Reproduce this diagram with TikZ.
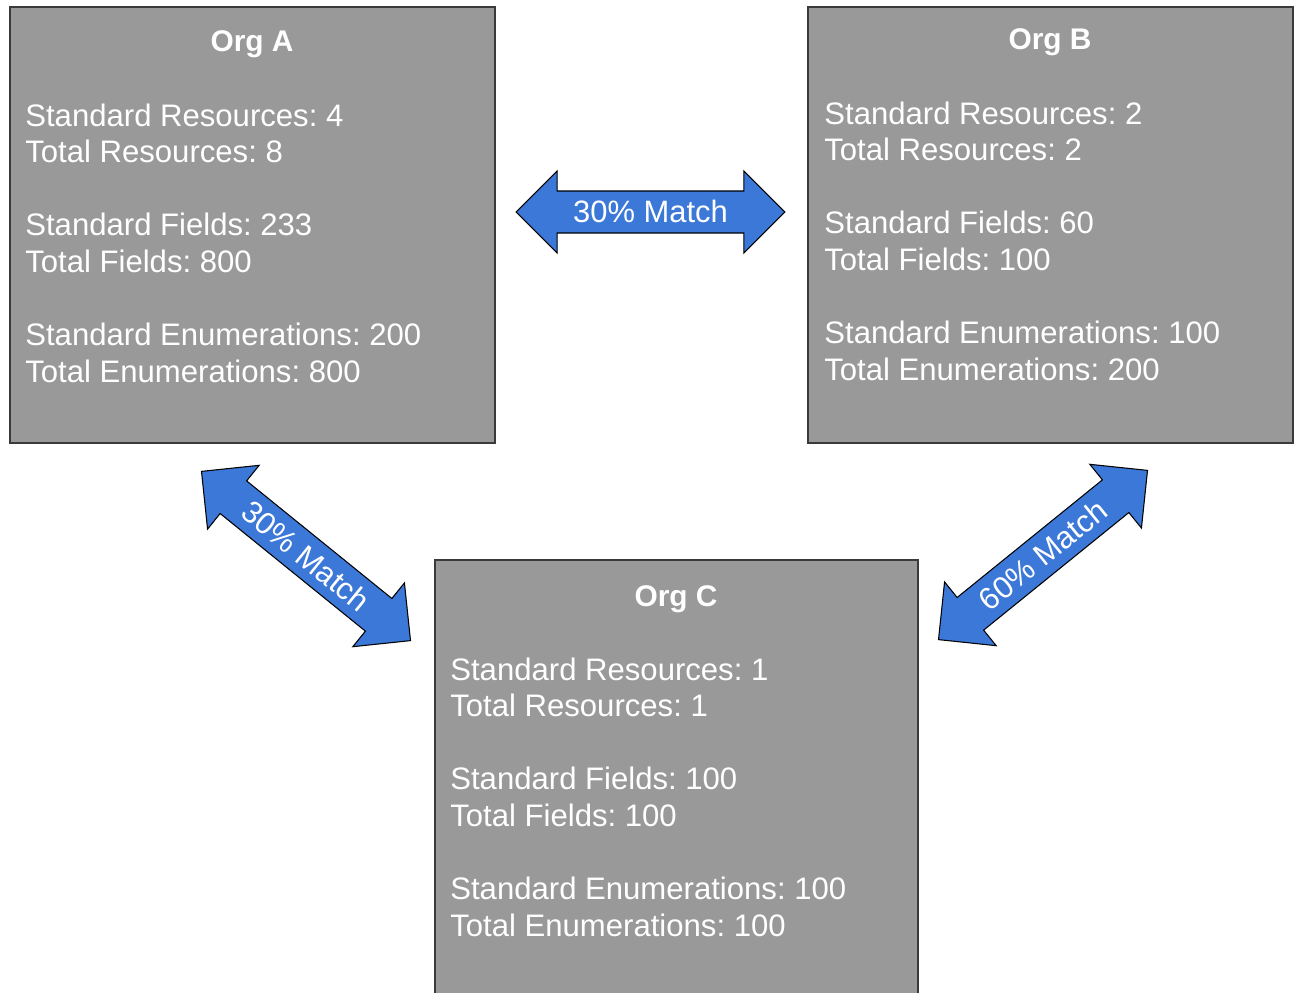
\documentclass[tikz,border=0pt]{standalone}
\usepackage{fontspec}
\setmainfont{Liberation Sans}
\usepackage{xcolor}
\usepackage{tikz}
\usetikzlibrary{shapes.arrows}
\frenchspacing
\definecolor{orggray}{HTML}{999999}
\definecolor{orgline}{HTML}{3A3A3A}
\definecolor{matchblue}{HTML}{3C78D8}
\tikzstyle{org} = [rectangle, draw = orgline, fill = orggray, line width = 0.9pt, inner sep = 0]
\tikzstyle{title} = [draw=none, inner sep = 0, anchor = base, text = white, font = \fontsize{17}{20.8}\selectfont\bfseries]
\tikzstyle{info} = [draw=none, inner sep = 0, anchor = base west, align = left, text = white, font = \fontsize{17.7}{20.8}\selectfont]
\tikzstyle{match} = [double arrow, draw = black, fill = matchblue, line width = 0.6pt, text = white,
  minimum height = 5.38cm, minimum width = 0pt, inner xsep = 0pt, inner ysep = 0.15cm,
  text height = 0.475cm, text depth = 0.045cm, double arrow head extend = 0.4cm,
  font = \fontsize{17.6}{20.8}\selectfont]

\begin{document}
\begin{tikzpicture}[x=0.02cm, y=-0.02cm]
\useasboundingbox (0,0) rectangle (1294,993);
\clip (0,0) rectangle (1294,993);
% the three orgs
\node [org, minimum width = 9.7cm, minimum height = 8.72cm]  (A) at (252.5, 225) {};
\node [org, minimum width = 9.7cm, minimum height = 8.72cm]  (B) at (1050.5, 225) {};
\node [org, minimum width = 9.66cm, minimum height = 8.8cm]  (C) at (676.5, 780) {};
\node [title] (tA) at (252, 52) {Org A};
\node [title] (tB) at (1050, 50) {Org B};
\node [title] (tC) at (676, 606) {Org C};
% anchor is the baseline of the last line
\node [info] (iA) at (25, 382) {Standard Resources: 4\\Total Resources: 8\\[20.8pt]Standard Fields: 233\\Total Fields: 800\\[20.8pt]Standard Enumerations: 200\\Total Enumerations: 800};
\node [info] (iB) at (824, 380) {Standard Resources: 2\\Total Resources: 2\\[20.8pt]Standard Fields: 60\\Total Fields: 100\\[20.8pt]Standard Enumerations: 100\\Total Enumerations: 200};
\node [info] (iC) at (450, 936) {Standard Resources: 1\\Total Resources: 1\\[20.8pt]Standard Fields: 100\\Total Fields: 100\\[20.8pt]Standard Enumerations: 100\\Total Enumerations: 100};
% matches
\node [match] (AB) at (650.5, 212) {30\% Match};
\node [match, rotate = -39] (AC) at (306, 556) {30\% Match};
\node [match, rotate = 39] (BC) at (1043, 555) {60\% Match};
\end{tikzpicture}
\end{document}
